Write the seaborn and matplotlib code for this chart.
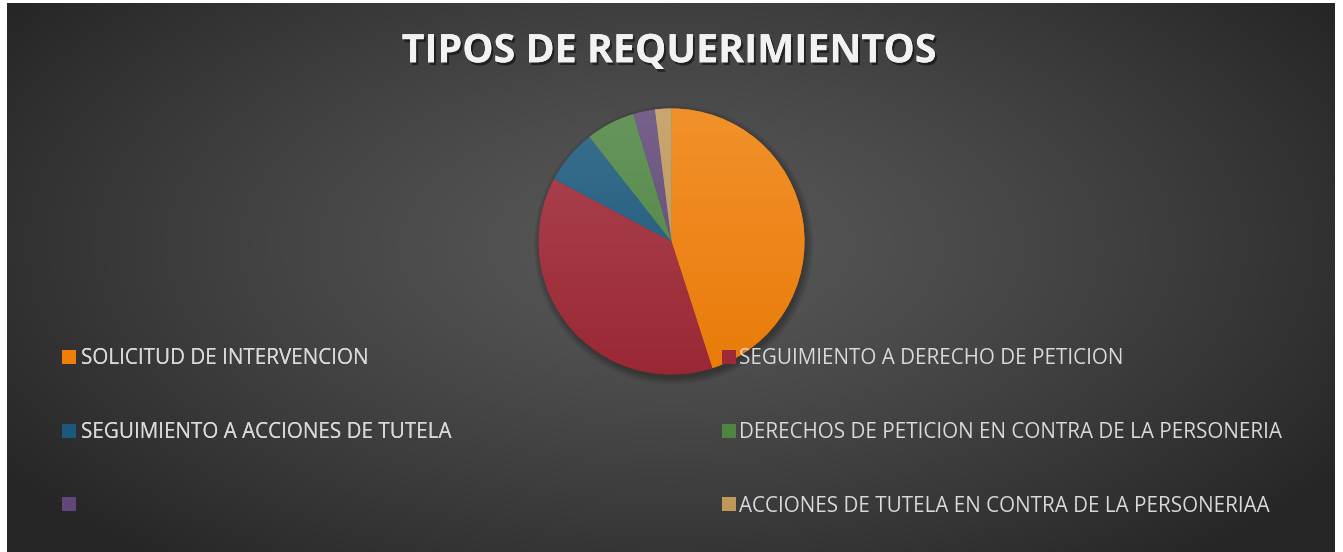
import numpy as np
import pandas as pd
import matplotlib
matplotlib.use("Agg")
import matplotlib.pyplot as plt
import seaborn as sns
from matplotlib.colors import LinearSegmentedColormap, to_rgb
from matplotlib.patches import Patch, Circle
import matplotlib.patheffects as pe

# ---------------- data ----------------
title = "TIPOS DE REQUERIMIENTOS"
categories = [
    "SOLICITUD DE INTERVENCION",
    "SEGUIMIENTO A DERECHO DE PETICION",
    "SEGUIMIENTO A ACCIONES DE TUTELA",
    "DERECHOS DE PETICION EN CONTRA DE LA PERSONERIA",
    "",
    "ACCIONES DE TUTELA EN CONTRA DE LA PERSONERIAA",
]
values = [68, 57, 10, 9, 4, 3]
colors = ["#F07F09", "#9F2936", "#1B587C", "#4E8542", "#604878", "#C19859"]

df = pd.DataFrame({"categoria": categories, "valor": values, "color": colors})

# ---------------- setup ----------------
W, H = 1343, 552
sns.set_theme(style="dark", palette=colors)
plt.rcParams["font.family"] = ["Open Sans", "DejaVu Sans"]

fig = plt.figure(figsize=(W / 100, H / 100), dpi=100)
fig.patch.set_facecolor("white")
renderer = fig.canvas.get_renderer()


def fx(px):
    return px / W


def fy(py):
    return 1 - py / H


# ---------------- background (radial dark gradient) ----------------
bx0, bx1, by0, by1 = 7, 1335, 3, 552
bg = fig.add_axes([fx(bx0), fy(by1), fx(bx1 - bx0), (by1 - by0) / H])
yy, xx = np.mgrid[by0:by1, bx0:bx1]
d = np.sqrt(((xx - 670) / 720.0) ** 2 + ((yy - 245) / 370.0) ** 2)
t = np.clip(d / 1.12, 0, 1) ** 1.25
v = (0x58 + (0x26 - 0x58) * t) / 255.0
bg.imshow(np.dstack([v, v, v]), aspect="auto", interpolation="bilinear")
bg.set_axis_off()

# ---------------- pie ----------------
cx, cy, r = 671.5, 241.5, 133.0
pad = 1.12
ax = fig.add_axes([fx(cx - r * pad), fy(cy + r * pad), 2 * r * pad / W, 2 * r * pad / H])
ax.set_axis_off()

# soft shadow
for i, rr in enumerate(np.linspace(1.05, 1.0, 6)):
    ax.add_patch(Circle((0.015, -0.025), rr, color="black", alpha=0.05, lw=0, zorder=0))

wedges, _ = ax.pie(df["valor"], colors=df["color"], startangle=90, counterclock=False,
                   radius=1.0, wedgeprops=dict(linewidth=0))

grad = np.linspace(1, 0, 256)[:, None]
for w, c in zip(wedges, df["color"]):
    base = np.array(to_rgb(c))
    light = base + (1 - base) * 0.14
    dark = base * 0.97
    cmap = LinearSegmentedColormap.from_list("g", [dark, light])
    im = ax.imshow(grad, extent=(-1, 1, -1, 1), origin="upper", cmap=cmap,
                   vmin=0, vmax=1, zorder=w.get_zorder() + 0.1, interpolation="bilinear")
    im.set_clip_path(w)

ax.set_xlim(-pad, pad)
ax.set_ylim(-pad, pad)
ax.set_aspect("auto")

# ---------------- title ----------------
def fit_size(text, target_px, **kw):
    tt = fig.text(0, 0, text, fontsize=20, **kw)
    wpx = tt.get_window_extent(renderer).width
    tt.remove()
    return 20 * target_px / wpx


fs_title = fit_size(title, 535, weight="bold")
fig.text(fx(668.5), fy(62.3), title, ha="center", va="baseline", fontsize=fs_title,
         weight="bold", color="#F2F2F2",
         path_effects=[pe.withSimplePatchShadow(offset=(1.5, -2), shadow_rgbFace="black", alpha=0.5),
                       pe.Normal()])

# ---------------- legend ----------------
fs_leg = fit_size(categories[0], 288)
fs_px = fs_leg * 100 / 72.0
sq = 14.0
hl = sq / fs_px


def make_legend(idx, x_handle, x_text, spacing):
    handles = [Patch(facecolor=df["color"][i], edgecolor="none") for i in idx]
    labels = [df["categoria"][i] for i in idx]
    leg = fig.legend(handles, labels, loc="center left",
                     bbox_to_anchor=(fx(x_handle), fy(432.5)),
                     bbox_transform=fig.transFigure, frameon=False, borderpad=0,
                     borderaxespad=0, handlelength=hl, handleheight=hl,
                     handletextpad=(x_text - x_handle - sq) / fs_px,
                     labelspacing=spacing, fontsize=fs_leg, labelcolor="#D9D9D9")
    return leg


spacing = 2.7
leg1 = make_legend([0, 2, 4], 62, 81, spacing)
fig.canvas.draw()
tx = leg1.get_texts()
pitch = tx[0].get_window_extent(renderer).y0 - tx[1].get_window_extent(renderer).y0
spacing = spacing + (73.5 - pitch) / fs_px
leg1.remove()

leg1 = make_legend([0, 2, 4], 62, 81, spacing)
fig.add_artist(leg1)
leg2 = make_legend([1, 3, 5], 722, 739, spacing)

fig.savefig("out.png", dpi=100, facecolor=fig.get_facecolor())
